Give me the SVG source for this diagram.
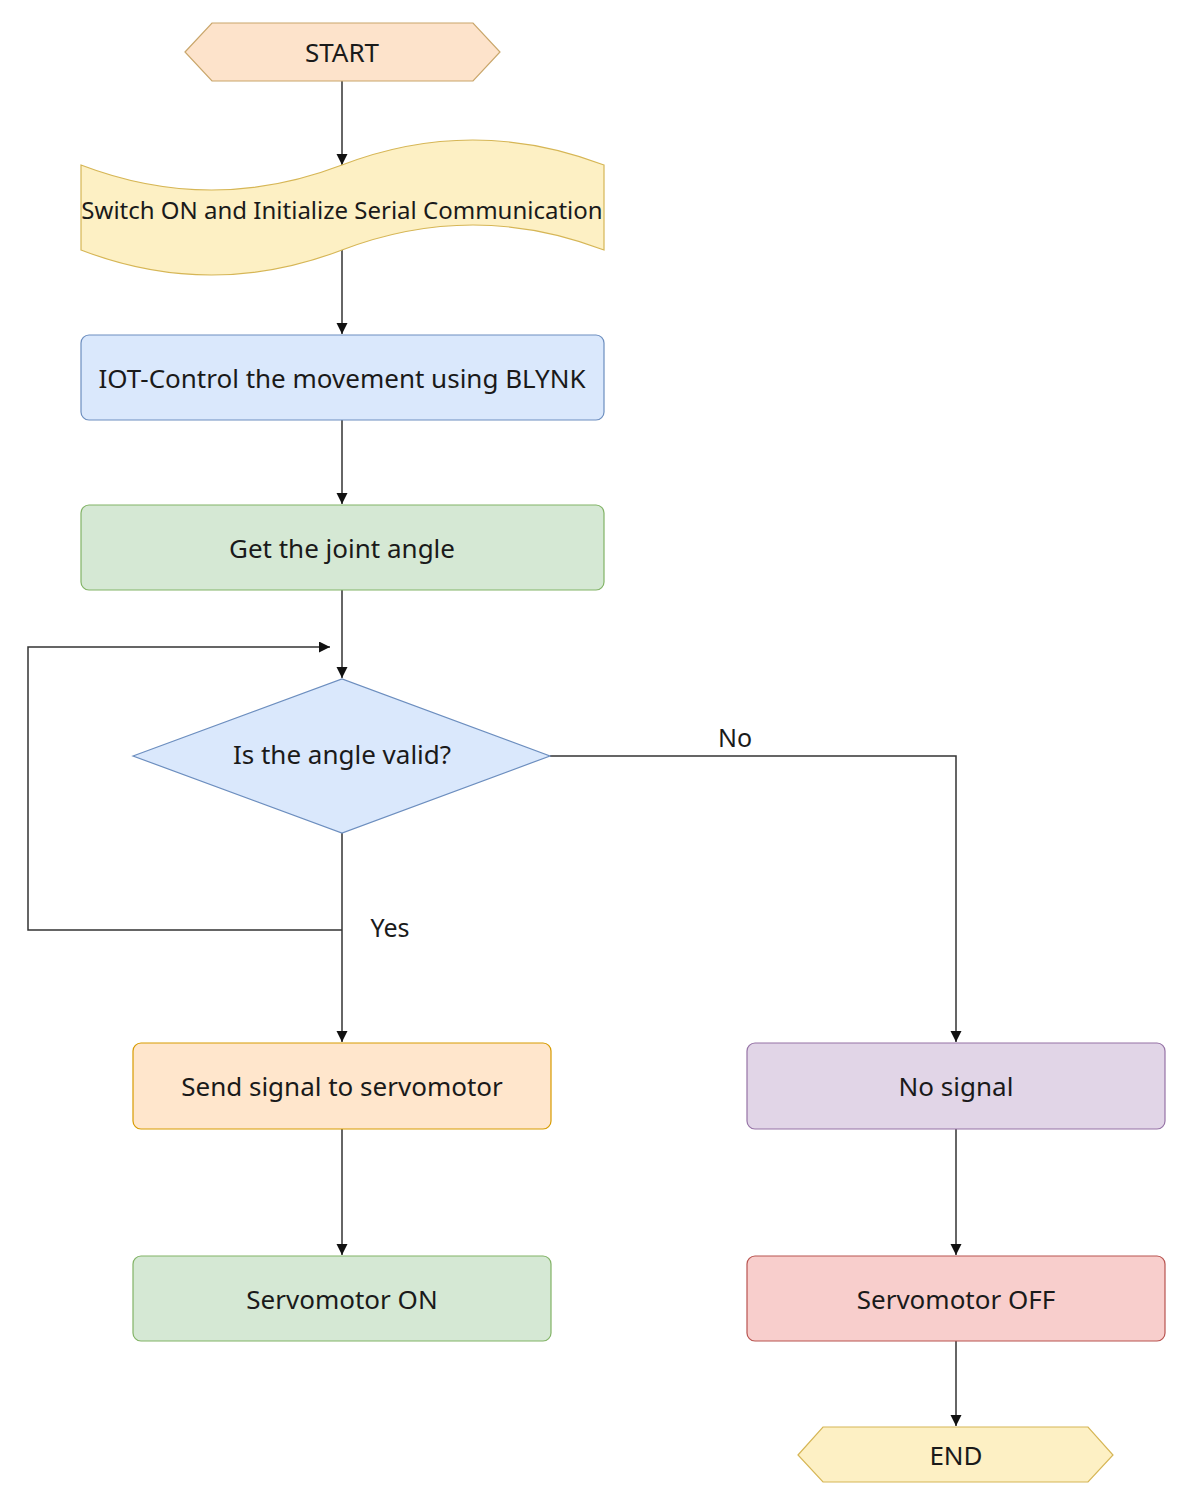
<svg xmlns="http://www.w3.org/2000/svg" width="1192" height="1506" viewBox="0 0 1192 1506">
<defs>
<marker id="ah" markerWidth="12" markerHeight="12" refX="11" refY="5.5" orient="auto" markerUnits="userSpaceOnUse">
<path d="M0,0 L11,5.5 L0,11 Z" fill="#111"/>
</marker>
</defs>
<style>
text{font-family:"Noto Sans","Open Sans","Liberation Sans",sans-serif;fill:#1a1a1a;text-anchor:middle;dominant-baseline:central}
.t{font-size:26px}
.w{font-size:24px}
.l{font-size:25px}
.e{fill:none;stroke:#333;stroke-width:1.5;marker-end:url(#ah)}
</style>
<rect width="1192" height="1506" fill="#fff"/>
<g id="connectors">
<line class="e" x1="342" y1="81" x2="342" y2="165"/>
<line class="e" x1="342" y1="250" x2="342" y2="334"/>
<line class="e" x1="342" y1="420" x2="342" y2="504"/>
<line class="e" x1="342" y1="590" x2="342" y2="678"/>
<polyline class="e" points="342,930 28,930 28,647 330,647"/>
<line class="e" x1="342" y1="833" x2="342" y2="1042"/>
<polyline class="e" points="550,756 956,756 956,1042"/>
<line class="e" x1="342" y1="1129" x2="342" y2="1255"/>
<line class="e" x1="956" y1="1129" x2="956" y2="1255"/>
<line class="e" x1="956" y1="1341" x2="956" y2="1426"/>
<text class="l" x="390" y="927">Yes</text>
<text class="l" x="735" y="737">No</text>
</g>
<g id="start">
<polygon points="185,52 212,23 473,23 500,52 473,81 212,81" fill="#fde3cb" stroke="#c9a66b" stroke-width="1.2"/>
<text class="t" x="342" y="52">START</text>
</g>
<g id="init">
<path d="M81,165 Q211.5,215 342,165 T604,165 L604,250 Q473,200 342,250 T81,250 Z" fill="#fdf0c4" stroke="#d6b656" stroke-width="1.2"/>
<text class="w" x="342" y="209">Switch ON and Initialize Serial Communication</text>
</g>
<g id="iot">
<rect x="81" y="335" width="523" height="85" rx="8" fill="#dae8fc" stroke="#6c8ebf" stroke-width="1.2"/>
<text class="t" x="342" y="378">IOT-Control the movement using BLYNK</text>
</g>
<g id="getangle">
<rect x="81" y="505" width="523" height="85" rx="8" fill="#d5e8d4" stroke="#82b366" stroke-width="1.2"/>
<text class="t" x="342" y="548">Get the joint angle</text>
</g>
<g id="decision">
<polygon points="133,756 342,679 550,756 342,833" fill="#dae8fc" stroke="#6c8ebf" stroke-width="1.2"/>
<text class="t" x="342" y="754">Is the angle valid?</text>
</g>
<g id="send">
<rect x="133" y="1043" width="418" height="86" rx="8" fill="#ffe6cc" stroke="#d79b00" stroke-width="1.2"/>
<text class="t" x="342" y="1086">Send signal to servomotor</text>
</g>
<g id="nosignal">
<rect x="747" y="1043" width="418" height="86" rx="8" fill="#e1d5e7" stroke="#9673a6" stroke-width="1.2"/>
<text class="t" x="956" y="1086">No signal</text>
</g>
<g id="servoon">
<rect x="133" y="1256" width="418" height="85" rx="8" fill="#d5e8d4" stroke="#82b366" stroke-width="1.2"/>
<text class="t" x="342" y="1299">Servomotor ON</text>
</g>
<g id="servooff">
<rect x="747" y="1256" width="418" height="85" rx="8" fill="#f8cecc" stroke="#b85450" stroke-width="1.2"/>
<text class="t" x="956" y="1299">Servomotor OFF</text>
</g>
<g id="end">
<polygon points="798,1455 823,1427 1088,1427 1113,1455 1088,1482 823,1482" fill="#fdf0c4" stroke="#d6b656" stroke-width="1.2"/>
<text class="t" x="956" y="1455">END</text>
</g>
</svg>
